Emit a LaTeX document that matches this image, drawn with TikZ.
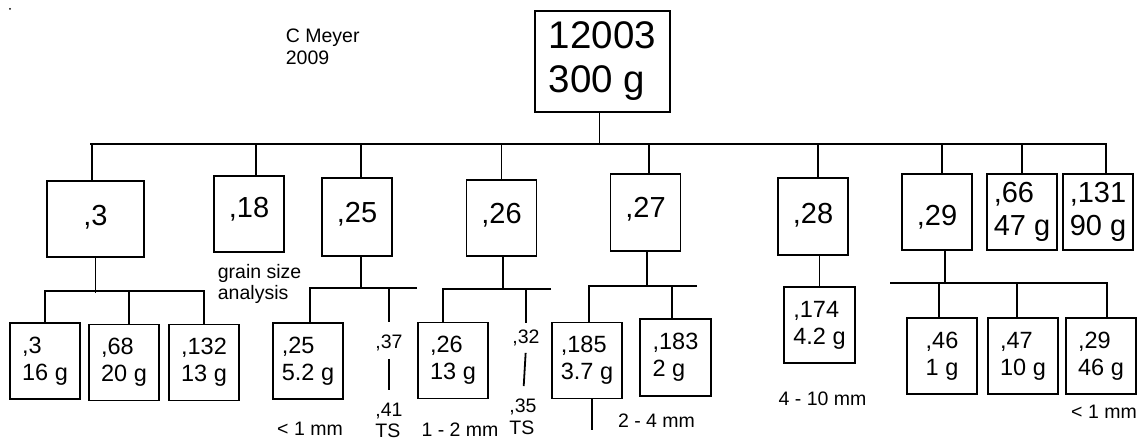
\documentclass[tikz,border=0pt]{standalone}
\usepackage{fontspec}
\setmainfont{Liberation Sans}
\usetikzlibrary{calc}

\begin{document}
\begin{tikzpicture}[x=1pt,y=-1pt,line width=1.8pt,
  sample/.style={draw,inner sep=0pt,minimum width=70pt,minimum height=76pt,align=left,font=\fontsize{29}{33}\selectfont},
  split/.style={sample,font=\fontsize{23.5}{27}\selectfont},
  note/.style={inner sep=0pt,align=left,font=\fontsize{19.5}{21.5}\selectfont}]
\useasboundingbox (0,0) rectangle (1140,441);
\fill (10,9) circle (1pt);
\node[note,anchor=north west] (author) at (285,28) {C Meyer\\2009};
% whole sample
\node[sample,minimum width=135pt,minimum height=101pt,font=\fontsize{38.5}{44}\selectfont] (top) at (602.5,61.5) {12003\\300 g};
% first split
\node[sample,minimum width=97pt,text height=20pt,text depth=7pt] (b3) at (95.5,219) {,3};
\node[sample,text height=20pt,text depth=14pt] (b18) at (249,214) {,18};
\node[sample,minimum height=78pt,text height=20pt,text depth=9pt] (b25) at (357,217) {,25};
\node[sample,text height=20pt,text depth=10pt] (b26) at (501.5,218) {,26};
\node[sample,minimum height=77pt,text height=20pt,text depth=11pt] (b27) at (645.5,212.5) {,27};
\node[sample,minimum height=77pt,text height=20pt,text depth=6pt] (b28) at (813,216.5) {,28};
\node[sample,text height=30pt,text depth=3pt] (b29) at (937,212) {,29};
\node[sample] (b66) at (1022,212) {,66\\47 g};
\node[sample] (b131) at (1098,212) {,131\\90 g};
\node[note,anchor=north west] (grain) at (217,263) {grain size\\analysis};
\coordinate (mb) at (90,144);
\draw (top.south) ++(-3,0) -- ++(0,32);
\draw (mb) -| ([xshift=8pt]b131.north);
\draw (b3.north) ++(-3.5,0) -- ++(0,-37);
\draw (b18.north) ++(7,0) -- ++(0,-32);
\draw (b25.north) ++(4,0) -- ++(0,-34);
\draw (b26.north) -- ++(0,-36);
\draw (b27.north) ++(3.5,0) -- ++(0,-30);
\draw (b28.north) ++(5,0) -- ++(0,-34);
\draw (b29.north) ++(5,0) -- ++(0,-30);
\draw (b66.north) -- ++(0,-30);
% second split
\node[split] (c3) at (45,361) {,3\\16 g};
\node[split] (c68) at (124,362.5) {,68\\20 g};
\node[split] (c132) at (204,362.5) {,132\\13 g};
\draw (b3.south) -- ++(0,35);
\draw (c3.north) -- ++(0,-31) -| (c132.north);
\draw (c68.north) ++(5,0) -- ++(0,-32);
\node[split] (c25) at (308,361) {,25\\5.2 g};
\node[note,anchor=north] (t37) at (389,334) {,37};
\node[note,anchor=north] (t41) at (389,402) {,41\\TS};
\node[note,anchor=north] (r25) at (310,421) {< 1 mm};
\coordinate (e25) at (417,288);
\draw (b25.south) ++(4,0) -- ++(0,32);
\draw (e25) -| ([xshift=2pt]c25.north);
\draw (t37.north |- e25) -- ++(0,34);
\draw[shorten <=7pt,shorten >=12pt] (t37.south) -- (t41.north);
\node[split] (c26) at (453,360.5) {,26\\13 g};
\node[note,anchor=north] (t32) at (526,329) {,32};
\node[note,anchor=north] (t35) at (523,398) {,35\\TS};
\node[note,anchor=north] (r26) at (460,422) {1 - 2 mm};
\coordinate (e26) at (551,289);
\draw (b26.south) ++(1.5,0) -- ++(0,33);
\draw (e26) -| ([xshift=-10pt]c26.north);
\draw (t32.north |- e26) -- ++(0,34);
\draw[shorten <=6pt,shorten >=12pt] (t32.south) -- (t35.north);
\node[split] (c185) at (587,360.5) {,185\\3.7 g};
\node[split,minimum width=71pt,minimum height=77pt] (c183) at (675.5,357.5) {,183\\2 g};
\node[note,anchor=north] (r27) at (656.5,413) {2 - 4 mm};
\coordinate (e27) at (697,286);
\coordinate (e185) at (592,430);
\draw (b27.south) ++(1.5,0) -- ++(0,35);
\draw (e27) -| ([xshift=2pt]c185.north);
\draw (c183.north) ++(-3.5,0) -- ++(0,-33);
\draw (c185.south -| e185) -- (e185);
\node[split,minimum width=71pt] (c174) at (819.5,325) {,174\\4.2 g};
\node[note,anchor=north] (r28) at (822.5,391) {4 - 10 mm};
\draw (c174.north |- b28.south) -- (c174.north);
\node[split] (c46) at (942,356) {,46\\1 g};
\node[split] (c47) at (1023,356) {,47\\10 g};
\node[split] (c29) at (1101,356) {,29\\46 g};
\node[note,anchor=north] (r29) at (1104,404) {< 1 mm};
\coordinate (w29) at (890,283);
\draw (b29.south) ++(8,0) -- ++(0,33);
\draw (w29) -| ([xshift=6pt]c29.north);
\draw (c46.north) ++(-3,0) -- ++(0,-35);
\draw (c47.north) ++(-6,0) -- ++(0,-35);
\end{tikzpicture}
\end{document}
